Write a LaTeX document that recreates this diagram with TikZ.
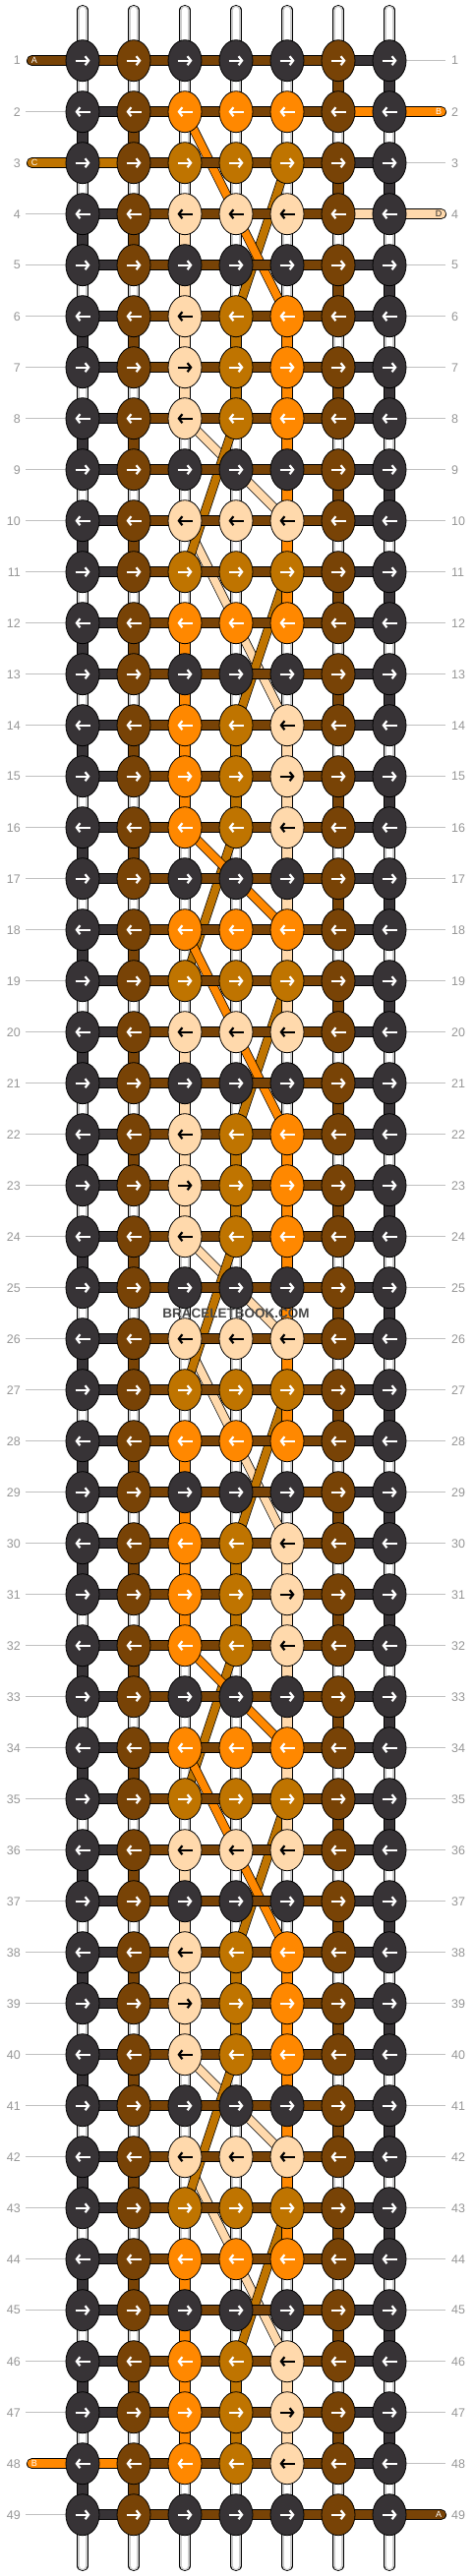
\documentclass[tikz,border=0pt]{standalone}
\usepackage{fontspec}
\setmainfont{Liberation Sans}
\usetikzlibrary{shapes.geometric,arrows.meta}

\definecolor{cK}{RGB}{55,51,54}
\definecolor{cN}{RGB}{120,67,6}
\definecolor{cO}{RGB}{255,136,0}
\definecolor{cG}{RGB}{191,116,0}
\definecolor{cP}{RGB}{255,217,172}
\colorlet{aK}{white}
\colorlet{aN}{white}
\colorlet{aO}{white}
\colorlet{aG}{white}
\colorlet{aP}{black}
\definecolor{rowgrey}{RGB}{150,150,150}
\definecolor{guidegrey}{RGB}{192,192,192}

\pgfdeclarelayer{strings}
\pgfsetlayers{strings,main}

\begin{document}
\begin{tikzpicture}[x=1pt,y=-1pt,
	knotshape/.style={ellipse,draw=black,line width=0.8pt,minimum width=34pt,minimum height=42pt,inner sep=0pt,fill=c#1},
	knotarrow/.style={line width=2.2pt,draw=a#1,-{Straight Barb[length=3.5pt,width=9pt]}},
	thread/.style={draw=black,line width=0.8pt,double=c#1,double distance=9.5pt},
	diag/.style={draw=black,line width=0.7pt,double=c#1,double distance=8pt},
	warp/.style={draw=black,line width=0.8pt,double=black!20,double distance=9.5pt,line cap=round},
	warpcore/.style={draw=white,line width=6.5pt,line cap=round},
	guide/.style={draw=guidegrey,line width=0.8pt},
	rowno/.style={text=rowgrey,font=\fontsize{12.5}{14}\selectfont,inner sep=0pt},
	endtag/.style={font=\fontsize{9}{10}\selectfont,inner sep=0pt}]
	\useasboundingbox (0,0) rectangle (480,2620);
	
	%Shape: Ellipse, knots row by row (pattern repeats every 16 rows)
	\foreach \b in {0,16,32,48}{
		\foreach \s/\mcA/\mcB/\mcC in {1/K/K/K,2/O/O/O,3/G/G/G,4/P/P/P,5/K/K/K,6/P/G/O,7/P/G/O,8/P/G/O,
			9/K/K/K,10/P/P/P,11/G/G/G,12/O/O/O,13/K/K/K,14/O/G/P,15/O/G/P,16/O/G/P}{
			\pgfmathtruncatemacro\r{\b+\s}
			\ifnum\r<50
			\foreach \c/\col in {1/K,2/N,3/\mcA,4/\mcB,5/\mcC,6/N,7/K}{
				\node[knotshape=\col] (k\r-\c) at ({84+52*(\c-1)},{61.7+52*(\r-1)}) {};
				\ifodd\r
				\draw[knotarrow=\col] ([xshift=-7.5pt]k\r-\c.center) -- ([xshift=7.5pt]k\r-\c.center);
				\else
				\draw[knotarrow=\col] ([xshift=7.5pt]k\r-\c.center) -- ([xshift=-7.5pt]k\r-\c.center);
				\fi
			}
			\fi
		}
	}
	
	% Text Node
	\foreach \r in {1,...,49}{
		\node[rowno,anchor=east] (nl\r) at (21,{61.7+52*(\r-1)}) {\r};
		\node[rowno,anchor=west] (nr\r) at (459,{61.7+52*(\r-1)}) {\r};
	}
	
	\begin{pgfonlayer}{strings}
		%Straight Lines: warps
		\foreach \c in {1,...,7}{
			\coordinate (top\c) at ({84+52*(\c-1)},10.5);
			\coordinate (bot\c) at ({84+52*(\c-1)},2609.5);
			\draw[warp] (top\c) -- (bot\c);
			\draw[warpcore] (top\c) -- (bot\c);
		}
		
		%Straight Lines: diagonals, peach then gold then orange
		\foreach \ra/\ca/\rb/\cb/\col in {8/3/10/5/P,10/3/14/5/P,24/3/26/5/P,26/3/30/5/P,40/3/42/5/P,42/3/46/5/P,
			3/5/6/4/G,8/4/11/3/G,11/5/14/4/G,16/4/19/3/G,19/5/22/4/G,24/4/27/3/G,27/5/30/4/G,
			32/4/35/3/G,35/5/38/4/G,40/4/43/3/G,43/5/46/4/G,
			2/3/6/5/O,16/3/18/5/O,18/3/22/5/O,32/3/34/5/O,34/3/38/5/O}{
			\draw[diag=\col] (k\ra-\ca.center) -- (k\rb-\cb.center);
		}
		
		%Straight Lines: vertical runs in the middle
		\foreach \ra/\rb/\c/\col in {4/8/3/P,20/24/3/P,36/40/3/P,6/8/4/G,22/24/4/G,38/40/4/G,
			6/12/5/O,22/28/5/O,38/44/5/O,12/16/3/O,28/32/3/O,44/48/3/O,
			14/16/4/G,30/32/4/G,46/48/4/G,14/20/5/P,30/36/5/P,46/48/5/P}{
			\draw[thread=\col] (k\ra-\c.center) -- (k\rb-\c.center);
		}
		
		%Straight Lines: turns at the edges
		\foreach \r [evaluate=\r as \n using int(\r+1)] in {2,4,...,48}{
			\draw[thread=K] (k\r-1.center) -- (k\n-1.center);
			\draw[thread=N] (k\r-2.center) -- (k\n-2.center);
		}
		\foreach \r [evaluate=\r as \n using int(\r+1)] in {1,3,...,47}{
			\draw[thread=N] (k\r-6.center) -- (k\n-6.center);
			\draw[thread=K] (k\r-7.center) -- (k\n-7.center);
		}
		
		%Straight Lines: rows
		\foreach \r in {1,...,49}{
			\draw[thread=N] (k\r-2.center) -- (k\r-6.center);
		}
		\foreach \r in {2,4,5,...,47,49}{
			\coordinate (gl\r) at (26,{61.7+52*(\r-1)});
			\draw[guide] (gl\r) -- (k\r-1.center);
			\draw[thread=K] (k\r-1.center) -- (k\r-2.center);
		}
		\foreach \r in {1,3,5,6,...,48}{
			\coordinate (gr\r) at (453,{61.7+52*(\r-1)});
			\draw[guide] (k\r-7.center) -- (gr\r);
			\draw[thread=K] (k\r-6.center) -- (k\r-7.center);
		}
		
		% strings coming in and going out
		\foreach \r/\col/\tag/\ink in {1/N/A/white,3/G/C/white,48/O/B/white}{
			\coordinate (el\r) at (32.5,{61.7+52*(\r-1)});
			\draw[thread=\col,line cap=round] (el\r) -- (k\r-2.center);
			\node[endtag,text=\ink] (tl\r) at (35,{61.7+52*(\r-1)}) {\tag};
		}
		\foreach \r/\col/\tag/\ink in {2/O/B/white,4/P/D/black!85,49/N/A/white}{
			\coordinate (er\r) at (448.5,{61.7+52*(\r-1)});
			\draw[thread=\col,line cap=round] (k\r-6.center) -- (er\r);
			\node[endtag,text=\ink] (tr\r) at (446,{61.7+52*(\r-1)}) {\tag};
		}
	\end{pgfonlayer}
	
	% Text Node
	\node[text=black!72,font=\bfseries\fontsize{13.5}{15}\selectfont,inner sep=0pt] (mark) at (240,1335.5) {BRACELETBOOK.COM};
	
\end{tikzpicture}
\end{document}
